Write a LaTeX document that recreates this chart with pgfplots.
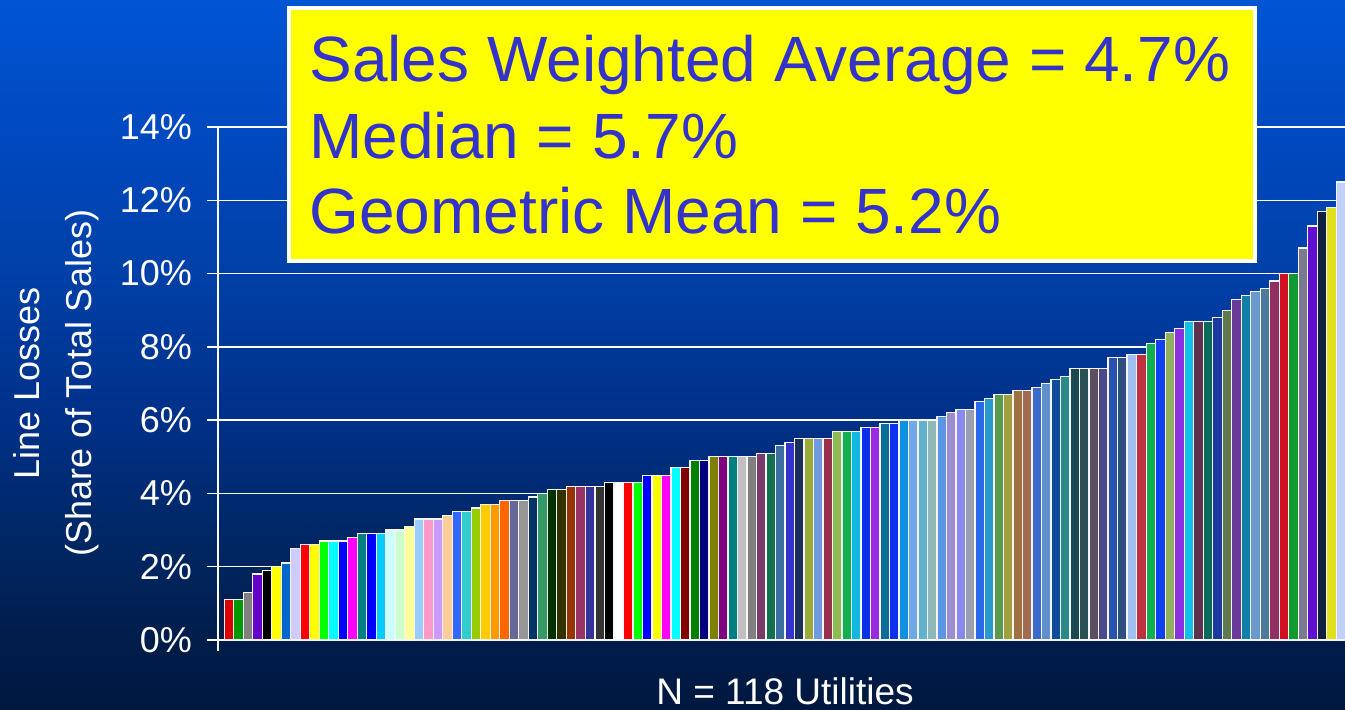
\documentclass[border=0pt]{standalone}
\usepackage{pgfplots}
\pgfplotsset{compat=1.18}
\usepackage{fontspec}
\setmainfont{Liberation Sans}
\definecolor{boxtext}{HTML}{3333CC}
\definecolor{boxfill}{HTML}{FFFF00}
\definecolor{g0}{RGB}{0,85,212}
\definecolor{g1}{RGB}{0,73,192}
\definecolor{g2}{RGB}{0,64,168}
\definecolor{g3}{RGB}{0,48,136}
\definecolor{g4}{RGB}{0,40,102}
\definecolor{g5}{RGB}{0,28,72}
\definecolor{g6}{RGB}{0,24,64}
% bar colours
\definecolor{b1}{HTML}{DD0000}\definecolor{b2}{HTML}{009900}\definecolor{b3}{HTML}{808080}\definecolor{b4}{HTML}{6600CC}
\definecolor{b5}{HTML}{000000}\definecolor{b6}{HTML}{FFFF00}\definecolor{b7}{HTML}{0066CC}\definecolor{b8}{HTML}{CCCCFF}
\definecolor{b9}{HTML}{FF0000}\definecolor{b10}{HTML}{FFFF00}\definecolor{b11}{HTML}{00FF00}\definecolor{b12}{HTML}{00FFFF}
\definecolor{b13}{HTML}{0000FF}\definecolor{b14}{HTML}{FF00FF}\definecolor{b15}{HTML}{008080}\definecolor{b16}{HTML}{0000FF}
\definecolor{b17}{HTML}{00CCFF}\definecolor{b18}{HTML}{CCFFFF}\definecolor{b19}{HTML}{CCFFCC}\definecolor{b20}{HTML}{FFFF99}
\definecolor{b21}{HTML}{99CCFF}\definecolor{b22}{HTML}{FF99CC}\definecolor{b23}{HTML}{CC99FF}\definecolor{b24}{HTML}{FFCC99}
\definecolor{b25}{HTML}{3366FF}\definecolor{b26}{HTML}{33CCCC}\definecolor{b27}{HTML}{99CC00}\definecolor{b28}{HTML}{FFCC00}
\definecolor{b29}{HTML}{FF9900}\definecolor{b30}{HTML}{FF6600}\definecolor{b31}{HTML}{666699}\definecolor{b32}{HTML}{969696}
\definecolor{b33}{HTML}{003366}\definecolor{b34}{HTML}{339966}\definecolor{b35}{HTML}{003300}\definecolor{b36}{HTML}{333300}
\definecolor{b37}{HTML}{993300}\definecolor{b38}{HTML}{993366}\definecolor{b39}{HTML}{333399}\definecolor{b40}{HTML}{333333}
\definecolor{b41}{HTML}{000000}\definecolor{b42}{HTML}{FFFFFF}\definecolor{b43}{HTML}{FF0000}\definecolor{b44}{HTML}{00FF00}
\definecolor{b45}{HTML}{0000FF}\definecolor{b46}{HTML}{FFFF00}\definecolor{b47}{HTML}{FF00FF}\definecolor{b48}{HTML}{00FFFF}
\definecolor{b49}{HTML}{800000}\definecolor{b50}{HTML}{008000}\definecolor{b51}{HTML}{000080}\definecolor{b52}{HTML}{808000}
\definecolor{b53}{HTML}{800080}\definecolor{b54}{HTML}{008080}\definecolor{b55}{HTML}{C0C0C0}\definecolor{b56}{HTML}{808080}
\definecolor{b57}{HTML}{7A3A6A}\definecolor{b58}{HTML}{107050}\definecolor{b59}{HTML}{3A6EA0}\definecolor{b60}{HTML}{3333CC}
\definecolor{b61}{HTML}{1A2F5A}\definecolor{b62}{HTML}{9AAA3A}\definecolor{b63}{HTML}{6F9AE0}\definecolor{b64}{HTML}{9A3050}
\definecolor{b65}{HTML}{8CBB50}\definecolor{b66}{HTML}{10B050}\definecolor{b67}{HTML}{10B8E0}\definecolor{b68}{HTML}{0A30E8}
\definecolor{b69}{HTML}{9A2AE0}\definecolor{b70}{HTML}{0A6E9A}\definecolor{b71}{HTML}{1030F0}\definecolor{b72}{HTML}{1090E0}
\definecolor{b73}{HTML}{70A8E8}\definecolor{b74}{HTML}{60B0D0}\definecolor{b75}{HTML}{90B8B8}\definecolor{b76}{HTML}{5A96E6}
\definecolor{b77}{HTML}{9C8CD0}\definecolor{b78}{HTML}{8888EE}\definecolor{b79}{HTML}{9AA0B0}\definecolor{b80}{HTML}{2A6AEA}
\definecolor{b81}{HTML}{2A99D0}\definecolor{b82}{HTML}{5A9A50}\definecolor{b83}{HTML}{A0A040}\definecolor{b84}{HTML}{A07040}
\definecolor{b85}{HTML}{A06A55}\definecolor{b86}{HTML}{3A6ACA}\definecolor{b87}{HTML}{6090CC}\definecolor{b88}{HTML}{104A9A}
\definecolor{b89}{HTML}{2A8A8A}\definecolor{b90}{HTML}{1A4A50}\definecolor{b91}{HTML}{2A5055}\definecolor{b92}{HTML}{5A5060}
\definecolor{b93}{HTML}{4A4A8A}\definecolor{b94}{HTML}{2A52B0}\definecolor{b95}{HTML}{2F4F80}\definecolor{b96}{HTML}{A0C0F0}
\definecolor{b97}{HTML}{C03040}\definecolor{b98}{HTML}{10B050}\definecolor{b99}{HTML}{1040F0}\definecolor{b100}{HTML}{90B060}
\definecolor{b101}{HTML}{8A30E0}\definecolor{b102}{HTML}{10C0E8}\definecolor{b103}{HTML}{603050}\definecolor{b104}{HTML}{0A6A5A}
\definecolor{b105}{HTML}{1A3AA0}\definecolor{b106}{HTML}{607A50}\definecolor{b107}{HTML}{6A3A9A}\definecolor{b108}{HTML}{1080A8}
\definecolor{b109}{HTML}{6A9ACC}\definecolor{b110}{HTML}{4D7A9A}\definecolor{b111}{HTML}{903060}\definecolor{b112}{HTML}{D01020}
\definecolor{b113}{HTML}{109A30}\definecolor{b114}{HTML}{7A7A90}\definecolor{b115}{HTML}{6010D0}\definecolor{b116}{HTML}{102040}
\definecolor{b117}{HTML}{E0E020}\definecolor{b118}{HTML}{C0D0F8}
\begin{document}
\begin{tikzpicture}
\useasboundingbox (0,0) rectangle (672.5pt,354.5pt);
% background gradient
\shade[top color=g0,bottom color=g1] (0pt,289.5pt) rectangle (672.5pt,354.5pt);
\shade[top color=g1,bottom color=g2] (0pt,219.5pt) rectangle (672.5pt,289.5pt);
\shade[top color=g2,bottom color=g3] (0pt,144.5pt) rectangle (672.5pt,219.5pt);
\shade[top color=g3,bottom color=g4] (0pt,89.5pt) rectangle (672.5pt,144.5pt);
\shade[top color=g4,bottom color=g5] (0pt,29.5pt) rectangle (672.5pt,89.5pt);
\shade[top color=g5,bottom color=g6] (0pt,0pt) rectangle (672.5pt,29.5pt);
\begin{axis}[
  at={(109pt,34.5pt)}, anchor=south west,
  scale only axis, width=563.5pt, height=256.5pt,
  xmin=-1.16, xmax=117.43, ymin=0, ymax=14,
  axis x line*=bottom, axis y line*=left,
  axis line style={white, line width=0.75pt},
  ytick={0,2,4,6,8,10,12,14},
  xtick={-1.16}, xticklabels={},
  tick align=outside, major tick length=5.5pt,
  tick style={white, line width=0.75pt},
  ymajorgrids, major grid style={white, line width=0.75pt},
  /pgf/number format/assume math mode=true,
  yticklabel={\pgfmathprintnumber{\tick}\%},
  yticklabel style={font=\fontsize{18}{20}\selectfont, text=white, xshift=-4pt},
  bar width=1,
  every axis plot/.append style={ybar, bar shift=0pt, draw=white!92!gray, line width=0.6pt},
]
\addplot[fill=b1] coordinates {(0,1.1)};
\addplot[fill=b2] coordinates {(1,1.1)};
\addplot[fill=b3] coordinates {(2,1.3)};
\addplot[fill=b4] coordinates {(3,1.8)};
\addplot[fill=b5] coordinates {(4,1.9)};
\addplot[fill=b6] coordinates {(5,2.0)};
\addplot[fill=b7] coordinates {(6,2.1)};
\addplot[fill=b8] coordinates {(7,2.5)};
\addplot[fill=b9] coordinates {(8,2.6)};
\addplot[fill=b10] coordinates {(9,2.6)};
\addplot[fill=b11] coordinates {(10,2.7)};
\addplot[fill=b12] coordinates {(11,2.7)};
\addplot[fill=b13] coordinates {(12,2.7)};
\addplot[fill=b14] coordinates {(13,2.8)};
\addplot[fill=b15] coordinates {(14,2.9)};
\addplot[fill=b16] coordinates {(15,2.9)};
\addplot[fill=b17] coordinates {(16,2.9)};
\addplot[fill=b18] coordinates {(17,3.0)};
\addplot[fill=b19] coordinates {(18,3.0)};
\addplot[fill=b20] coordinates {(19,3.1)};
\addplot[fill=b21] coordinates {(20,3.3)};
\addplot[fill=b22] coordinates {(21,3.3)};
\addplot[fill=b23] coordinates {(22,3.3)};
\addplot[fill=b24] coordinates {(23,3.4)};
\addplot[fill=b25] coordinates {(24,3.5)};
\addplot[fill=b26] coordinates {(25,3.5)};
\addplot[fill=b27] coordinates {(26,3.6)};
\addplot[fill=b28] coordinates {(27,3.7)};
\addplot[fill=b29] coordinates {(28,3.7)};
\addplot[fill=b30] coordinates {(29,3.8)};
\addplot[fill=b31] coordinates {(30,3.8)};
\addplot[fill=b32] coordinates {(31,3.8)};
\addplot[fill=b33] coordinates {(32,3.9)};
\addplot[fill=b34] coordinates {(33,4.0)};
\addplot[fill=b35] coordinates {(34,4.1)};
\addplot[fill=b36] coordinates {(35,4.1)};
\addplot[fill=b37] coordinates {(36,4.2)};
\addplot[fill=b38] coordinates {(37,4.2)};
\addplot[fill=b39] coordinates {(38,4.2)};
\addplot[fill=b40] coordinates {(39,4.2)};
\addplot[fill=b41] coordinates {(40,4.3)};
\addplot[fill=b42] coordinates {(41,4.3)};
\addplot[fill=b43] coordinates {(42,4.3)};
\addplot[fill=b44] coordinates {(43,4.3)};
\addplot[fill=b45] coordinates {(44,4.5)};
\addplot[fill=b46] coordinates {(45,4.5)};
\addplot[fill=b47] coordinates {(46,4.5)};
\addplot[fill=b48] coordinates {(47,4.7)};
\addplot[fill=b49] coordinates {(48,4.7)};
\addplot[fill=b50] coordinates {(49,4.9)};
\addplot[fill=b51] coordinates {(50,4.9)};
\addplot[fill=b52] coordinates {(51,5.0)};
\addplot[fill=b53] coordinates {(52,5.0)};
\addplot[fill=b54] coordinates {(53,5.0)};
\addplot[fill=b55] coordinates {(54,5.0)};
\addplot[fill=b56] coordinates {(55,5.0)};
\addplot[fill=b57] coordinates {(56,5.1)};
\addplot[fill=b58] coordinates {(57,5.1)};
\addplot[fill=b59] coordinates {(58,5.3)};
\addplot[fill=b60] coordinates {(59,5.4)};
\addplot[fill=b61] coordinates {(60,5.5)};
\addplot[fill=b62] coordinates {(61,5.5)};
\addplot[fill=b63] coordinates {(62,5.5)};
\addplot[fill=b64] coordinates {(63,5.5)};
\addplot[fill=b65] coordinates {(64,5.7)};
\addplot[fill=b66] coordinates {(65,5.7)};
\addplot[fill=b67] coordinates {(66,5.7)};
\addplot[fill=b68] coordinates {(67,5.8)};
\addplot[fill=b69] coordinates {(68,5.8)};
\addplot[fill=b70] coordinates {(69,5.9)};
\addplot[fill=b71] coordinates {(70,5.9)};
\addplot[fill=b72] coordinates {(71,6.0)};
\addplot[fill=b73] coordinates {(72,6.0)};
\addplot[fill=b74] coordinates {(73,6.0)};
\addplot[fill=b75] coordinates {(74,6.0)};
\addplot[fill=b76] coordinates {(75,6.1)};
\addplot[fill=b77] coordinates {(76,6.2)};
\addplot[fill=b78] coordinates {(77,6.3)};
\addplot[fill=b79] coordinates {(78,6.3)};
\addplot[fill=b80] coordinates {(79,6.5)};
\addplot[fill=b81] coordinates {(80,6.6)};
\addplot[fill=b82] coordinates {(81,6.7)};
\addplot[fill=b83] coordinates {(82,6.7)};
\addplot[fill=b84] coordinates {(83,6.8)};
\addplot[fill=b85] coordinates {(84,6.8)};
\addplot[fill=b86] coordinates {(85,6.9)};
\addplot[fill=b87] coordinates {(86,7.0)};
\addplot[fill=b88] coordinates {(87,7.1)};
\addplot[fill=b89] coordinates {(88,7.2)};
\addplot[fill=b90] coordinates {(89,7.4)};
\addplot[fill=b91] coordinates {(90,7.4)};
\addplot[fill=b92] coordinates {(91,7.4)};
\addplot[fill=b93] coordinates {(92,7.4)};
\addplot[fill=b94] coordinates {(93,7.7)};
\addplot[fill=b95] coordinates {(94,7.7)};
\addplot[fill=b96] coordinates {(95,7.8)};
\addplot[fill=b97] coordinates {(96,7.8)};
\addplot[fill=b98] coordinates {(97,8.1)};
\addplot[fill=b99] coordinates {(98,8.2)};
\addplot[fill=b100] coordinates {(99,8.4)};
\addplot[fill=b101] coordinates {(100,8.5)};
\addplot[fill=b102] coordinates {(101,8.7)};
\addplot[fill=b103] coordinates {(102,8.7)};
\addplot[fill=b104] coordinates {(103,8.7)};
\addplot[fill=b105] coordinates {(104,8.8)};
\addplot[fill=b106] coordinates {(105,9.0)};
\addplot[fill=b107] coordinates {(106,9.3)};
\addplot[fill=b108] coordinates {(107,9.4)};
\addplot[fill=b109] coordinates {(108,9.5)};
\addplot[fill=b110] coordinates {(109,9.6)};
\addplot[fill=b111] coordinates {(110,9.8)};
\addplot[fill=b112] coordinates {(111,10.0)};
\addplot[fill=b113] coordinates {(112,10.0)};
\addplot[fill=b114] coordinates {(113,10.7)};
\addplot[fill=b115] coordinates {(114,11.3)};
\addplot[fill=b116] coordinates {(115,11.7)};
\addplot[fill=b117] coordinates {(116,11.8)};
\addplot[fill=b118] coordinates {(117,12.5)};
\end{axis}
% axis titles
\node[rotate=90, align=center, text=white, font=\fontsize{18}{26}\selectfont, inner sep=0pt]
  at (28pt,163pt) {Line Losses\\(Share of Total Sales)};
\node[anchor=base, text=white, font=\fontsize{18.5}{20}\selectfont, inner sep=0pt]
  at (392.5pt,2.5pt) {N = 118 Utilities};
% statistics box
\draw[white, line width=2pt, fill=boxfill] (144.5pt,224pt) rectangle (627.5pt,350.5pt);
\begin{scope}[every node/.style={anchor=base west, inner sep=0pt, text=boxtext, font=\fontsize{32}{36}\selectfont}]
\node at (154.5pt,314pt) {Sales Weighted Average = 4.7\%};
\node at (154.5pt,275.5pt) {Median = 5.7\%};
\node at (154.5pt,238pt) {Geometric Mean = 5.2\%};
\end{scope}
\end{tikzpicture}
\end{document}
